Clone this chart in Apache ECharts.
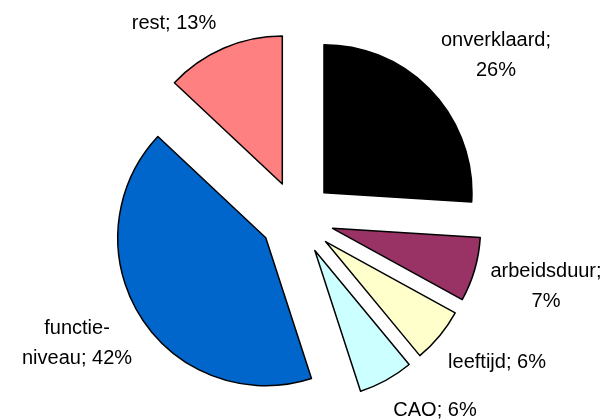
<!DOCTYPE html>
<html>
<head>
<meta charset="utf-8">
<script src="https://cdn.jsdelivr.net/npm/echarts@6/dist/echarts.min.js"></script>
<style>
html,body{margin:0;padding:0;background:#fff;}
#c{width:611px;height:420px;}
</style>
</head>
<body>
<div id="c"></div>
<script>
// Data
var categories = ['onverklaard', 'arbeidsduur', 'leeftijd', 'CAO', 'functieniveau', 'rest'];
var values = [26, 7, 6, 6, 42, 13];
var labelPrefixes = ['onverklaard;\n', 'arbeidsduur;\n', 'leeftijd; ', 'CAO; ', 'functie-\nniveau; ', 'rest; '];
var colors = ['#000000', '#993366', '#FFFFCC', '#CCFFFF', '#0066CC', '#FF8080'];

// Layout (pixels)
var CX = 297, CY = 218, R = 148, OFFSET = 37;
var LABEL_X = [496, 546, 497, 435, 77, 174];
var LABEL_Y = [55, 286, 362, 410, 343, 23];

var labelTexts = categories.map(function (c, i) {
  return labelPrefixes[i] + values[i] + '%';
});

var chart = echarts.init(document.getElementById('c'), null, {renderer: 'canvas'});
chart.setOption({
  animation: false,
  backgroundColor: '#ffffff',
  graphic: labelTexts.map(function (t, i) {
    return {
      type: 'text',
      x: LABEL_X[i],
      y: LABEL_Y[i],
      silent: true,
      style: {
        text: t,
        fontFamily: 'Liberation Sans, Arial, sans-serif',
        fontSize: 20,
        lineHeight: 30,
        fill: '#000000',
        align: 'center',
        verticalAlign: 'middle'
      }
    };
  }),
  series: [{
    type: 'pie',
    center: [CX, CY],
    radius: [0, R],
    startAngle: 90,
    clockwise: true,
    selectedMode: 'multiple',
    selectedOffset: OFFSET,
    emphasis: {disabled: true},
    itemStyle: {borderColor: '#000000', borderWidth: 1.5},
    label: {show: false},
    labelLine: {show: false},
    data: categories.map(function (c, i) {
      return {name: c, value: values[i], selected: true, itemStyle: {color: colors[i]}};
    })
  }]
});
</script>
</body>
</html>
